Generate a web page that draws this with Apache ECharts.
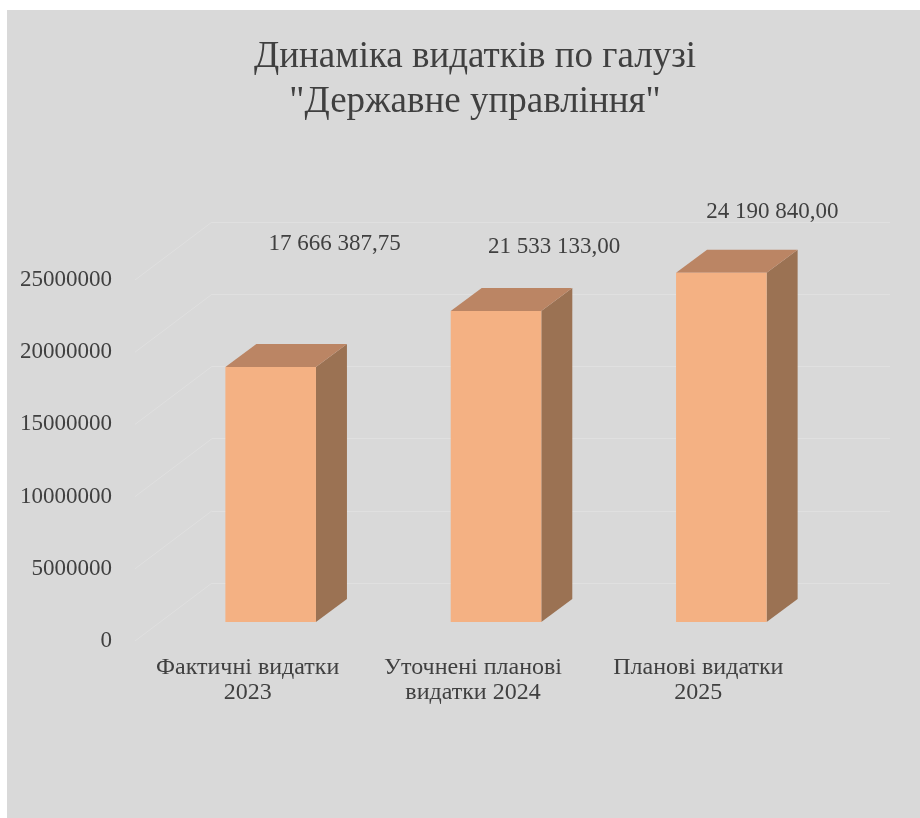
<!DOCTYPE html>
<html>
<head>
<meta charset="utf-8">
<script src="https://cdn.jsdelivr.net/npm/echarts@6/dist/echarts.min.js"></script>
<style>
html,body{margin:0;padding:0;background:#fff;}
#c{width:920px;height:818px;}
</style>
</head>
<body>
<div id="c"></div>
<script>
const titleText = 'Динаміка видатків по галузі\n"Державне управління"';
const categories = ['Фактичні видатки\n2023', 'Уточнені планові\nвидатки 2024', 'Планові видатки\n2025'];
const values = [17666387.75, 21533133.00, 24190840.00];
const tickValues = [0, 5000000, 10000000, 15000000, 20000000, 25000000];

const AXIS_MIN = 0, AXIS_MAX = 25000000, AXIS_STEP = 5000000;
const FONT = '"Liberation Serif", "Times New Roman", serif';
const DEPTH = [31, -23];         // bar depth offset
const WALL = [77, -58];          // wall depth offset
const labelOffsets = [[64, -123], [58, -64], [51, -61]];

function fmt(v) {
  const parts = v.toFixed(2).split('.');
  return parts[0].replace(/\B(?=(\d{3})+(?!\d))/g, ' ') + ',' + parts[1];
}

const chart = echarts.init(document.getElementById('c'), null, {renderer: 'canvas'});

const yCommon = {type: 'value', min: AXIS_MIN, max: AXIS_MAX, interval: AXIS_STEP};

chart.setOption({
  backgroundColor: '#ffffff',
  animation: false,
  graphic: [{type: 'rect', shape: {x: 7, y: 10, width: 913, height: 808}, style: {fill: '#d9d9d9'}, z: -10, silent: true}],
  title: {
    text: titleText, left: 470, top: 30, textAlign: 'center',
    textStyle: {fontFamily: FONT, fontSize: 37, fontWeight: 'normal', color: '#404040', lineHeight: 45}
  },
  grid: [
    {left: 158, top: 261, width: 676, height: 361},   // bar front plane
    {left: 135, top: 280, width: 676, height: 361},   // axis label plane
    {left: 212, top: 222, width: 678, height: 361}    // back wall
  ],
  xAxis: [
    {gridIndex: 0, type: 'category', data: categories, show: false},
    {gridIndex: 1, type: 'category', data: categories,
     axisLine: {show: false}, axisTick: {show: false},
     axisLabel: {fontFamily: FONT, fontSize: 24, color: '#404040', lineHeight: 25, margin: 14, interval: 0}},
    {gridIndex: 2, type: 'category', data: categories, show: false}
  ],
  yAxis: [
    Object.assign({gridIndex: 0, show: false}, yCommon),
    Object.assign({gridIndex: 1,
      axisLine: {show: false}, axisTick: {show: false}, splitLine: {show: false},
      axisLabel: {fontFamily: FONT, fontSize: 23, color: '#404040', margin: 23,
                  formatter: v => String(v)}}, yCommon),
    Object.assign({gridIndex: 2,
      axisLine: {show: false}, axisTick: {show: false}, axisLabel: {show: false},
      splitLine: {show: true, lineStyle: {color: '#e0e0e0', width: 1}}}, yCommon)
  ],
  series: [
    {
      type: 'custom', xAxisIndex: 1, yAxisIndex: 1, silent: true, z: 1,
      data: tickValues.map(v => [0, v]),
      renderItem: function (params, api) {
        const y = api.coord([0, api.value(1)])[1];
        const x = params.coordSys.x;
        return {type: 'line', shape: {x1: x, y1: y, x2: x + WALL[0], y2: y + WALL[1]},
                style: {stroke: '#e0e0e0', lineWidth: 1}};
      }
    },
    {
      type: 'custom', xAxisIndex: 0, yAxisIndex: 0, z: 5,
      data: values.map((v, i) => [i, v]),
      renderItem: function (params, api) {
        const i = api.value(0);
        const top = api.coord([i, api.value(1)]);
        const base = api.coord([i, 0]);
        const w = api.size([1, 0])[0] * 0.402;
        const xl = top[0] - w / 2, xr = top[0] + w / 2;
        const dx = DEPTH[0], dy = DEPTH[1];
        const off = labelOffsets[params.dataIndex];
        return {type: 'group', children: [
          {type: 'polygon', shape: {points: [[xr, top[1]], [xr + dx, top[1] + dy], [xr + dx, base[1] + dy], [xr, base[1]]]},
           style: {fill: '#9b7253'}},
          {type: 'polygon', shape: {points: [[xl, top[1]], [xr, top[1]], [xr + dx, top[1] + dy], [xl + dx, top[1] + dy]]},
           style: {fill: '#bb8564'}},
          {type: 'rect', shape: {x: xl, y: top[1], width: w, height: base[1] - top[1]},
           style: {fill: '#f4b183'}},
          {type: 'text', x: top[0] + off[0], y: top[1] + off[1],
           style: {text: fmt(api.value(1)), fontFamily: FONT, fontSize: 23, fill: '#404040',
                   align: 'center', verticalAlign: 'middle'}}
        ]};
      }
    }
  ]
});
</script>
</body>
</html>
